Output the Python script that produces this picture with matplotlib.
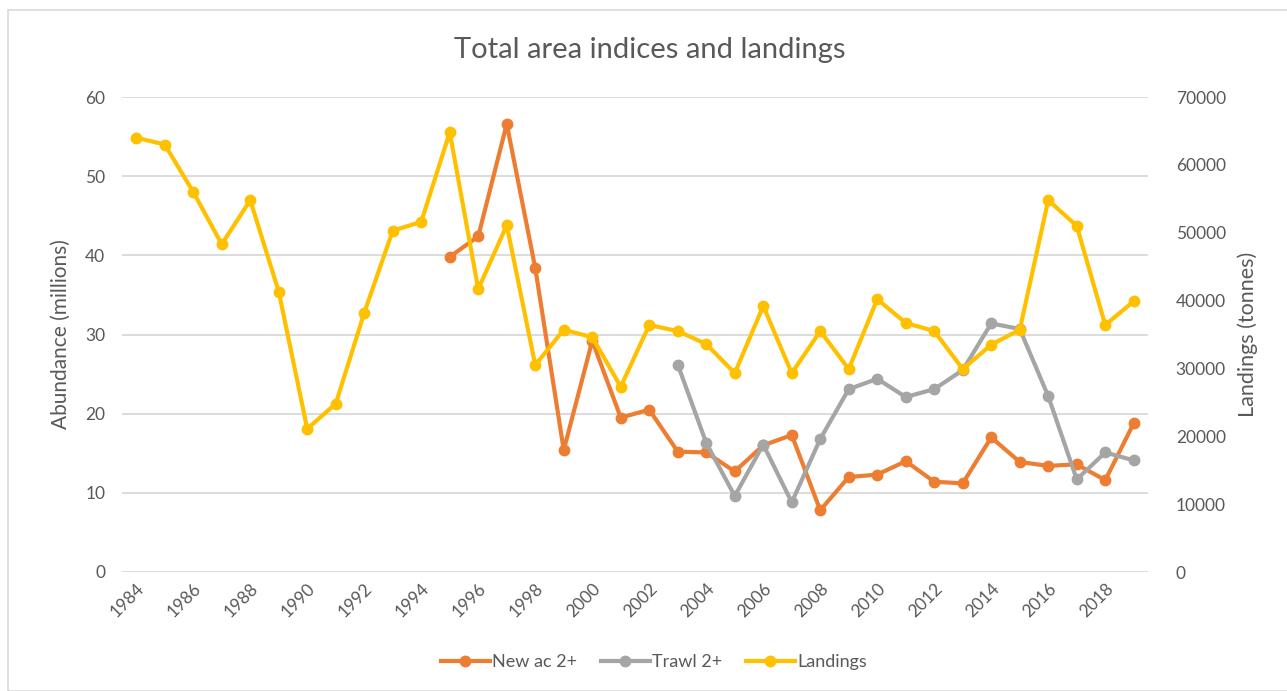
import matplotlib
matplotlib.use("Agg")
import matplotlib.pyplot as plt
from matplotlib.patches import Rectangle
import numpy as np

plt.rcParams['font.family'] = ['Lato', 'DejaVu Sans']

years = list(range(1984, 2020))

landings = [64000, 63000, 56000, 48300, 54800, 41300, 21100, 24800, 38200, 50300,
            51600, 64800, 41700, 51100, 30500, 35700, 34600, 27300, 36400, 35500,
            33600, 29300, 39200, 29300, 35500, 29900, 40200, 36700, 35500, 29900,
            33500, 35700, 54800, 51000, 36400, 39900]

new_ac_years = list(range(1995, 2020))
new_ac = [39.8, 42.4, 56.6, 38.4, 15.4, 29.2, 19.5, 20.5, 15.2, 15.1,
          12.7, 16.0, 17.3, 7.8, 12.0, 12.3, 14.0, 11.4, 11.2, 17.0,
          13.9, 13.4, 13.6, 11.6, 18.8]

trawl_years = list(range(2003, 2020))
trawl = [26.2, 16.3, 9.6, 16.1, 8.8, 16.8, 23.1, 24.4, 22.1, 23.1,
         25.5, 31.4, 30.7, 22.2, 11.7, 15.1, 14.1]

tick_years = list(range(1984, 2019, 2))

W, H = 1287, 691
fig = plt.figure(figsize=(W / 100, H / 100), dpi=100)
txt = '#595959'
grid = '#D9D9D9'

# chart border
fig.patches.append(Rectangle((8 / W, 0), 2, 1 - 10 / H, transform=fig.transFigure,
                             fill=False, edgecolor='#D9D9D9', linewidth=1.2))

ax = fig.add_axes([122 / W, 1 - 572 / H, (1148 - 122) / W, (572 - 97) / H])
ax2 = ax.twinx()

lw = 3.0
ms = 7.5
ax.plot(new_ac_years, new_ac, color='#ED7D31', lw=lw, marker='o', ms=ms,
        label='New ac 2+', zorder=3, solid_joinstyle='round')
ax.plot(trawl_years, trawl, color='#A5A5A5', lw=lw, marker='o', ms=ms,
        label='Trawl 2+', zorder=4, solid_joinstyle='round')
ax2.plot(years, landings, color='#FFC000', lw=lw, marker='o', ms=ms,
         label='Landings', zorder=3, solid_joinstyle='round')

ax.set_xlim(years[0] - 0.5, years[-1] + 0.5)
ax.set_ylim(0, 60)
ax2.set_ylim(0, 70000)
ax.set_yticks(np.arange(0, 61, 10))
ax2.set_yticks(np.arange(0, 70001, 10000))
ax.yaxis.grid(True, color=grid, linewidth=1.3)
ax.set_axisbelow(True)

for a in (ax, ax2):
    for s in a.spines.values():
        s.set_visible(False)
    a.tick_params(length=0, colors=txt, labelsize=12.5)

ax.tick_params(axis='y', pad=12)
ax2.tick_params(axis='y', pad=20)
ax.set_xticks(tick_years)
ax.set_xticklabels([str(y) for y in tick_years], rotation=45, ha='right', va='top',
                   rotation_mode='anchor')
ax.tick_params(axis='x', pad=6)

ax.set_ylabel('Abundance (millions)', color=txt, fontsize=15, labelpad=10)
ax2.set_ylabel('Landings (tonnes)', color=txt, fontsize=15.5, labelpad=8)

fig.text(650 / W, 1 - 50 / H, 'Total area indices and landings', ha='center', va='center',
         color=txt, fontsize=21)

h1, l1 = ax.get_legend_handles_labels()
h2, l2 = ax2.get_legend_handles_labels()
fig.legend(h1 + h2, l1 + l2, loc='center', bbox_to_anchor=(654 / W, 1 - 662 / H),
           ncol=3, frameon=False, fontsize=13, labelcolor=txt, handlelength=2.7,
           columnspacing=1.3, handletextpad=0.15)

fig.savefig('out.png', dpi=100)
